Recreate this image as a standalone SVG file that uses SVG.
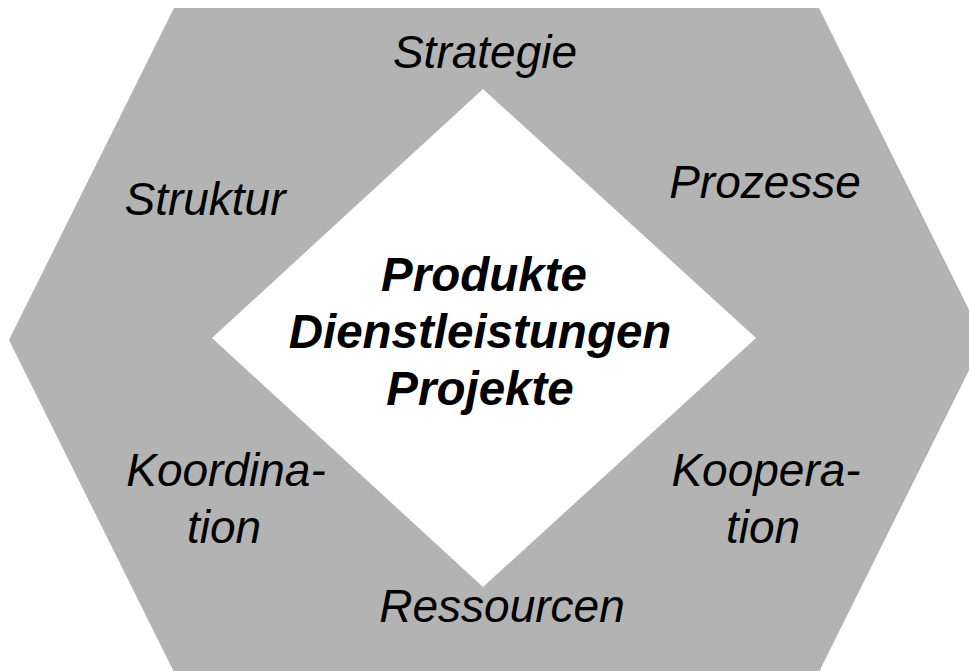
<svg xmlns="http://www.w3.org/2000/svg" width="969" height="671" viewBox="0 0 969 671">
<style>
.lbl{font-family:"Liberation Sans",Arial,sans-serif;font-style:italic;font-size:46px;fill:#000;text-anchor:middle}
.core{font-family:"Liberation Sans",Arial,sans-serif;font-style:italic;font-weight:bold;font-size:47.5px;fill:#000;text-anchor:middle}
</style>
<rect width="969" height="671" fill="#fff"/>
<g id="hexagon"><polygon points="174,8 819,8 984,340 819,672 174,672 9,340" fill="#b3b3b3"/></g>
<g id="center">
<polygon points="483,89 756,338 483,587 212,338" fill="#fff"/>
<text class="core" x="484" y="291">Produkte</text>
<text class="core" x="480" y="348">Dienstleistungen</text>
<text class="core" x="480" y="405">Projekte</text>
</g>
<g id="strategie"><text class="lbl" x="485" y="68">Strategie</text></g>
<g id="struktur"><text class="lbl" x="205" y="215">Struktur</text></g>
<g id="prozesse"><text class="lbl" x="765" y="198">Prozesse</text></g>
<g id="koordination"><text class="lbl" x="226" y="486">Koordina-</text><text class="lbl" x="224" y="543">tion</text></g>
<g id="kooperation"><text class="lbl" x="766" y="486">Koopera-</text><text class="lbl" x="763" y="543">tion</text></g>
<g id="ressourcen"><text class="lbl" x="502" y="622">Ressourcen</text></g>
<g id="connectors"/>
</svg>
